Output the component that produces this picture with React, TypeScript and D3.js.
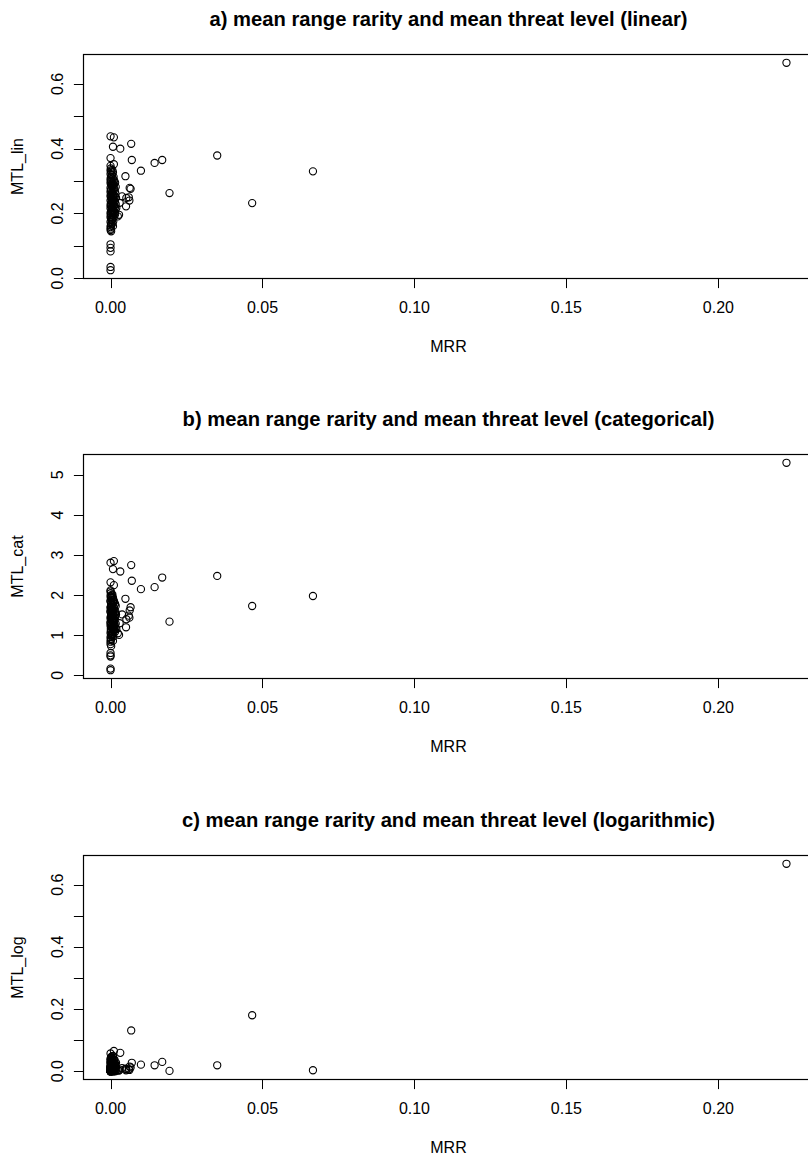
import React from "react";
import * as d3 from "d3";

// ---- data (one entry per species/cell) ----
const mrr = [
  0.2224, 0.0666, 0.0466, 0.0351, 0.0194, 0.017, 0.0145, 0.01, 0.0068, 0.007,
  0.0032, 0.0049, 0.0066, 0.006, 0.0062, 0.0051, 0.0028, 0.0, 0.0011, 0.0008,
  0.0, 0.0011, 0.0038, 0.0052, 0.003, 0.0019, 0.0024, 0.0063,
  0.0, 0.0, 0.0, 0.0, 0.0,
  // group A
  0, 0.0001, 0, 0.0002, 0, 0.0003, 0.0001, 0, 0.0002, 0, 0.0001, 0.0004, 0, 0.0002, 0.0001, 0, 0.0003, 0, 0.0001, 0.0002,
  0, 0.0004, 0.0001, 0, 0.0002, 0, 0.0003, 0.0001, 0, 0.0002, 0, 0.0001, 0.0003, 0, 0.0002, 0.0001, 0, 0.0001, 0, 0.0002,
  // group B
  0.0006, 0.0008, 0.0005, 0.001, 0.0007, 0.0009, 0.0006, 0.0008, 0.0005, 0.001, 0.0007, 0.0006, 0.0009, 0.0008, 0.0005,
  0.0007, 0.001, 0.0006, 0.0008, 0.0009, 0.0005, 0.0007, 0.0006, 0.001, 0.0008, 0.0007, 0.0005, 0.0009, 0.0006, 0.0008,
  // group C
  0.0012, 0.0015, 0.0011, 0.0017, 0.0013, 0.0014, 0.0016, 0.0012, 0.0018, 0.0011, 0.0015, 0.0013, 0.0017, 0.0012, 0.0014,
  0.0016, 0.0011, 0.0013, 0.0015, 0.0012,
];

const mtlLin = [
  0.665, 0.33, 0.232, 0.379, 0.263, 0.365, 0.356, 0.332, 0.415, 0.365,
  0.4, 0.315, 0.276, 0.25, 0.24, 0.222, 0.196, 0.438, 0.435, 0.406,
  0.371, 0.352, 0.253, 0.248, 0.233, 0.217, 0.191, 0.279,
  0.105, 0.094, 0.083, 0.035, 0.025,
  0.347, 0.339, 0.333, 0.329, 0.322, 0.318, 0.311, 0.305, 0.301, 0.296, 0.29, 0.286, 0.279, 0.274, 0.271, 0.266, 0.26, 0.255, 0.251, 0.246,
  0.24, 0.236, 0.231, 0.225, 0.222, 0.216, 0.211, 0.205, 0.2, 0.196, 0.19, 0.185, 0.179, 0.174, 0.168, 0.163, 0.158, 0.153, 0.149, 0.145,
  0.334, 0.327, 0.319, 0.313, 0.308, 0.299, 0.293, 0.288, 0.283, 0.277, 0.269, 0.263, 0.258, 0.252, 0.247,
  0.242, 0.238, 0.233, 0.228, 0.223, 0.218, 0.212, 0.207, 0.201, 0.194, 0.187, 0.181, 0.176, 0.169, 0.161,
  0.302, 0.295, 0.289, 0.282, 0.275, 0.268, 0.262, 0.256, 0.249, 0.244, 0.239, 0.234, 0.229, 0.224, 0.219,
  0.213, 0.208, 0.203, 0.198, 0.191,
];

const mtlCat = [
  5.3, 1.98, 1.73, 2.48, 1.34, 2.44, 2.2, 2.15, 2.75, 2.36,
  2.59, 1.91, 1.7, 1.49, 1.44, 1.2, 1.01, 2.81, 2.85, 2.65,
  2.32, 2.25, 1.52, 1.4, 1.3, 1.15, 1.05, 1.62,
  0.56, 0.5, 0.47, 0.17, 0.13,
  2.12, 2.05, 2.09, 1.96, 1.98, 1.89, 1.93, 1.84, 1.8, 1.86, 1.72, 1.76, 1.68, 1.63, 1.7, 1.58, 1.55, 1.6, 1.47, 1.5,
  1.42, 1.38, 1.45, 1.33, 1.28, 1.3, 1.21, 1.17, 1.24, 1.1, 1.06, 1.12, 0.99, 0.95, 1.01, 0.88, 0.84, 0.91, 0.78, 0.73,
  2.02, 1.94, 2.0, 1.87, 1.82, 1.88, 1.74, 1.79, 1.66, 1.71, 1.61, 1.65, 1.53, 1.57, 1.46,
  1.51, 1.4, 1.35, 1.43, 1.31, 1.26, 1.34, 1.19, 1.22, 1.14, 1.08, 1.03, 0.97, 1.0, 0.86,
  1.83, 1.78, 1.69, 1.73, 1.62, 1.56, 1.59, 1.48, 1.52, 1.41, 1.44, 1.36, 1.29, 1.32, 1.25,
  1.18, 1.23, 1.13, 1.09, 1.15,
];

const mtlLog = [
  0.667, 0.003, 0.18, 0.019, 0.001, 0.03, 0.019, 0.021, 0.131, 0.027,
  0.059, 0.008, 0.012, 0.006, 0.004, 0.003, 0.002, 0.057, 0.065, 0.048,
  0.04, 0.036, 0.01, 0.007, 0.005, 0.004, 0.003, 0.015,
  0.0, 0.001, 0.0, 0.0, 0.0,
  0.012, 0.031, 0.004, 0.022, 0.0, 0.041, 0.008, 0.017, 0.002, 0.027, 0.01, 0.0, 0.035, 0.006, 0.019, 0.001, 0.047, 0.013, 0.003, 0.024,
  0.0, 0.009, 0.038, 0.005, 0.015, 0.0, 0.029, 0.002, 0.011, 0.044, 0.007, 0.0, 0.02, 0.004, 0.033, 0.001, 0.014, 0.0, 0.026, 0.006,
  0.018, 0.003, 0.039, 0.011, 0.0, 0.025, 0.007, 0.049, 0.014, 0.002, 0.032, 0.009, 0.021, 0.0, 0.043,
  0.005, 0.016, 0.028, 0.001, 0.012, 0.036, 0.004, 0.023, 0.0, 0.01, 0.03, 0.006, 0.018, 0.002, 0.008,
  0.009, 0.024, 0.001, 0.015, 0.037, 0.004, 0.012, 0.0, 0.027, 0.007, 0.019, 0.002, 0.011, 0.033, 0.005,
  0.0, 0.016, 0.008, 0.022, 0.003,
];

const xTicks = [0, 0.05, 0.1, 0.15, 0.2];
const xTickLabels = ["0.00", "0.05", "0.10", "0.15", "0.20"];

const titles = [
  "a) mean range rarity and mean threat level (linear)",
  "b) mean range rarity and mean threat level (categorical)",
  "c) mean range rarity and mean threat level (logarithmic)",
];
const yTitles = ["MTL_lin", "MTL_cat", "MTL_log"];
const yTicksLin = [0, 0.1, 0.2, 0.3, 0.4, 0.5, 0.6];
const yLabelsLin = ["0.0", "", "0.2", "", "0.4", "", "0.6"];
const yTicksCat = [0, 1, 2, 3, 4, 5];
const yLabelsCat = ["0", "1", "2", "3", "4", "5"];
const yTicksLog = [0, 0.1, 0.2, 0.3, 0.4, 0.5, 0.6];
const yLabelsLog = ["0.0", "", "0.2", "", "0.4", "", "0.6"];

const W = 808;
const H = 1159;
const LEFT = 83.5;
const PW = 730;
const PH = 224;
const TOPS = [54.5, 454.5, 855.5];
const FONT = "'Liberation Sans', Arial, Helvetica, sans-serif";
const TICK = 9.6;

function padded(vals: number[]): [number, number] {
  const [a, b] = d3.extent(vals) as [number, number];
  const r = b - a;
  return [a - 0.04 * r, b + 0.04 * r];
}

function Panel({ idx, values, yTicks, yLabels }: { idx: number; values: number[]; yTicks: number[]; yLabels: string[] }) {
  const top = TOPS[idx];
  const x = d3.scaleLinear().domain(padded(mrr)).range([LEFT, LEFT + PW]);
  const y = d3.scaleLinear().domain(padded(values)).range([top + PH, top]);
  const bottom = top + PH;
  const cx = LEFT + PW / 2;
  return (
    <g>
      <text x={cx} y={top - 29} textAnchor="middle" fontFamily={FONT} fontWeight="bold" fontSize={20.2} fill="#000">
        {titles[idx]}
      </text>
      <rect x={LEFT} y={top} width={PW} height={PH} fill="none" stroke="#000" strokeWidth={1.2} />
      {mrr.map((m, i) => (
        <circle key={i} cx={x(m)} cy={y(values[i])} r={3.6} fill="none" stroke="#000" strokeWidth={1.1} />
      ))}
      {/* x axis */}
      <line x1={x(xTicks[0])} x2={x(xTicks[xTicks.length - 1])} y1={bottom} y2={bottom} stroke="#000" />
      {xTicks.map((t, i) => (
        <g key={i}>
          <line x1={Math.round(x(t)) + 0.5} x2={Math.round(x(t)) + 0.5} y1={bottom} y2={bottom + TICK} stroke="#000" />
          <text x={x(t)} y={bottom + 34} textAnchor="middle" fontFamily={FONT} fontSize={16} fill="#000">
            {xTickLabels[i]}
          </text>
        </g>
      ))}
      <text x={cx} y={bottom + 73} textAnchor="middle" fontFamily={FONT} fontSize={16} fill="#000">
        MRR
      </text>
      {/* y axis */}
      {yTicks.map((t, i) => {
        const yy = Math.round(y(t)) + 0.5;
        return (
          <g key={i}>
            <line x1={LEFT - TICK} x2={LEFT} y1={yy} y2={yy} stroke="#000" />
            {yLabels[i] && (
              <text
                transform={`translate(${LEFT - 21},${y(t)}) rotate(-90)`}
                textAnchor="middle"
                fontFamily={FONT}
                fontSize={16}
                fill="#000"
              >
                {yLabels[i]}
              </text>
            )}
          </g>
        );
      })}
      <text
        transform={`translate(${23},${top + PH / 2}) rotate(-90)`}
        textAnchor="middle"
        fontFamily={FONT}
        fontSize={16}
        fill="#000"
      >
        {yTitles[idx]}
      </text>
    </g>
  );
}

export default function App() {
  return (
    <svg width={W} height={H} style={{ position: "absolute", left: 0, top: 0, background: "#fff" }}>
      <rect x={0} y={0} width={W} height={H} fill="#fff" />
      <Panel idx={0} values={mtlLin} yTicks={yTicksLin} yLabels={yLabelsLin} />
      <Panel idx={1} values={mtlCat} yTicks={yTicksCat} yLabels={yLabelsCat} />
      <Panel idx={2} values={mtlLog} yTicks={yTicksLog} yLabels={yLabelsLog} />
    </svg>
  );
}
